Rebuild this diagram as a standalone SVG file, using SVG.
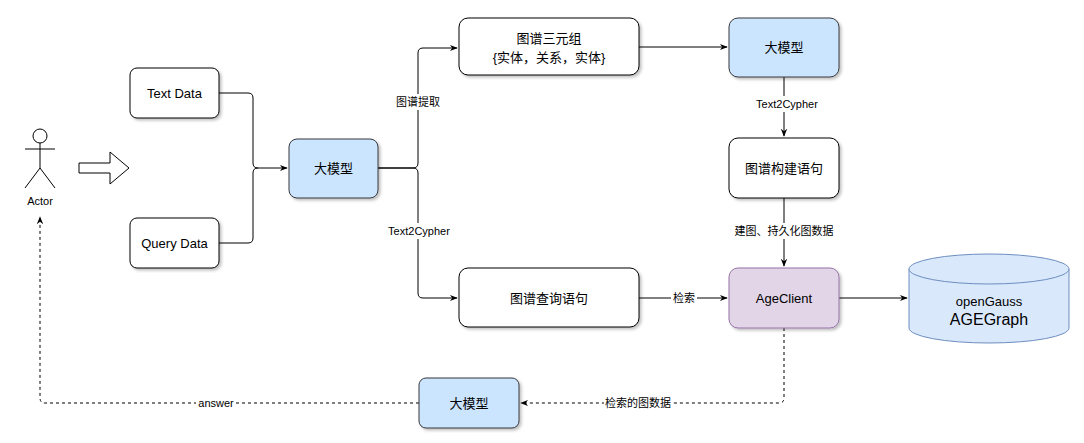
<svg xmlns="http://www.w3.org/2000/svg" width="1084" height="443" viewBox="0 0 1084 443">
<style>
text{font-family:"Liberation Sans","Noto Sans CJK SC",sans-serif;font-size:13px;fill:#000;text-anchor:middle;dominant-baseline:central}
.box{fill:#fff;stroke:#000;stroke-width:1}
.blue{fill:#cce5ff;stroke:#36393d}
.e{fill:none;stroke:#000;stroke-width:1}
.d{stroke-dasharray:3 3}
.lb{font-size:11px}
.lbg{fill:#fff}
</style>
<defs>
<marker id="a" viewBox="0 0 10 10" refX="9" refY="5" markerWidth="8" markerHeight="8" orient="auto"><path d="M0,1 L10,5 L0,9 L3,5 Z" fill="#000"/></marker>
<filter id="sh"><feDropShadow dx="2" dy="2" stdDeviation="1.5" flood-opacity="0.25"/></filter>
</defs>
<g id="actor" fill="none" stroke="#000">
<circle cx="40" cy="136" r="7" fill="#fff"/>
<path d="M40,143 V168 M25,149 H55 M40,168 L25,188 M40,168 L55,188"/>
<text x="40" y="201" stroke="none" class="lb">Actor</text>
</g>
<g id="hollow-arrow"><path d="M79,163 H110 V152 L129,168 L110,184 V173 H79 Z" fill="#fff" stroke="#000"/></g>
<g id="connectors">
<path class="e" d="M219,93 H248 Q253,93 253,98 V163 Q253,168 258,168 H287" marker-end="url(#a)"/>
<path class="e" d="M219,243 H248 Q253,243 253,238 V173 Q253,168 258,168"/>
<path class="e" d="M378,168 H413 Q418,168 418,163 V53 Q418,48 423,48 H457" marker-end="url(#a)"/>
<path class="e" d="M378,168 H413 Q418,168 418,173 V293 Q418,298 423,298 H457" marker-end="url(#a)"/>
<path class="e" d="M639,47 H727" marker-end="url(#a)"/>
<path class="e" d="M784,77 V136" marker-end="url(#a)"/>
<path class="e" d="M784,198 V266" marker-end="url(#a)"/>
<path class="e" d="M639,298 H727" marker-end="url(#a)"/>
<path class="e" d="M839,298 H907" marker-end="url(#a)"/>
<path class="e d" d="M784,328 V398 Q784,403 779,403 H521" marker-end="url(#a)"/>
<path class="e d" d="M419,403 H45 Q40,403 40,398 V217" marker-end="url(#a)"/>
<rect x="394" y="94" width="48" height="16" class="lbg"/><text x="418" y="102" class="lb">图谱提取</text>
<rect x="385" y="223" width="68" height="16" class="lbg"/><text x="419" y="231" class="lb">Text2Cypher</text>
<rect x="753" y="96" width="66" height="16" class="lbg"/><text x="787" y="104" class="lb">Text2Cypher</text>
<rect x="734" y="223" width="100" height="16" class="lbg"/><text x="784" y="231" class="lb">建图、持久化图数据</text>
<rect x="671" y="290" width="26" height="16" class="lbg"/><text x="684" y="298" class="lb">检索</text>
<rect x="604" y="395" width="68" height="16" class="lbg"/><text x="638" y="403" class="lb">检索的图数据</text>
<rect x="196" y="395" width="40" height="16" class="lbg"/><text x="216" y="403" class="lb">answer</text>
</g>
<g id="text-data"><rect x="130" y="68" width="89" height="50" rx="7" class="box" filter="url(#sh)"/><text x="174.5" y="93">Text Data</text></g>
<g id="query-data"><rect x="130" y="218" width="89" height="50" rx="7" class="box" filter="url(#sh)"/><text x="174.5" y="243">Query Data</text></g>
<g id="llm1"><rect x="289" y="139" width="89" height="59" rx="8" class="blue" filter="url(#sh)"/><text x="333.5" y="168">大模型</text></g>
<g id="triple"><rect x="459" y="18" width="180" height="57" rx="9" class="box" filter="url(#sh)"/><text x="549" y="38">图谱三元组</text><text x="549" y="57">{实体，关系，实体}</text></g>
<g id="llm2"><rect x="729" y="18" width="110" height="59" rx="9" class="blue" filter="url(#sh)"/><text x="784" y="47">大模型</text></g>
<g id="build"><rect x="729" y="138" width="110" height="60" rx="9" class="box" filter="url(#sh)"/><text x="784" y="168">图谱构建语句</text></g>
<g id="query"><rect x="459" y="268" width="180" height="59" rx="9" class="box" filter="url(#sh)"/><text x="549" y="298">图谱查询语句</text></g>
<g id="ageclient"><rect x="729" y="268" width="110" height="60" rx="9" fill="#e1d5e7" stroke="#9673a6" filter="url(#sh)"/><text x="784" y="298">AgeClient</text></g>
<g id="db">
<path d="M909,269 V328 A80,15 0 0 0 1069,328 V269" fill="#dae8fc" stroke="#6c8ebf"/>
<ellipse cx="989" cy="269" rx="80" ry="15" fill="#dae8fc" stroke="#6c8ebf"/>
<text x="989" y="301">openGauss</text><text x="989" y="319" style="font-size:16px">AGEGraph</text>
</g>
<g id="llm3"><rect x="419" y="378" width="100" height="50" rx="7" class="blue" filter="url(#sh)"/><text x="469" y="403">大模型</text></g>
</svg>
